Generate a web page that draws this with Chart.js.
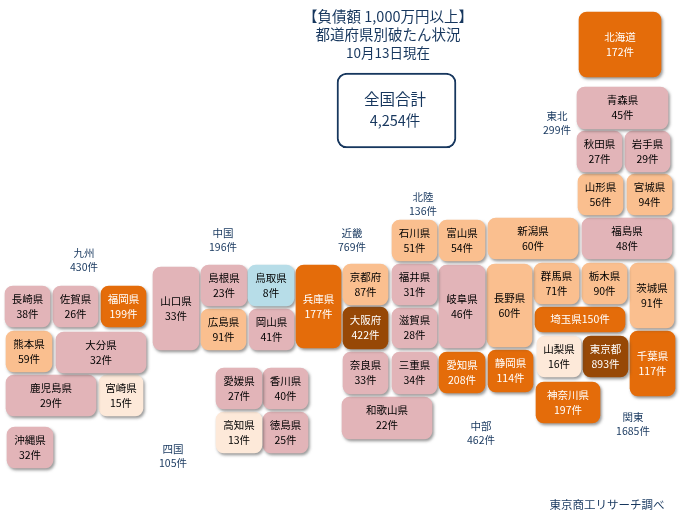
<!DOCTYPE html>
<html lang="ja">
<head>
<meta charset="utf-8">
<title>都道府県別破たん状況</title>
<script src="https://cdn.jsdelivr.net/npm/chart.js@4"></script>
<style>
  html, body { margin: 0; padding: 0; background: #fff; }
  canvas { display: block; }
</style>
</head>
<body>
<canvas id="tileMap" width="685" height="519"></canvas>
<script>
const prefectures = ['北海道', '青森県', '秋田県', '岩手県', '山形県', '宮城県', '福島県', '新潟県', '富山県', '石川県', '福井県', '岐阜県', '長野県', '群馬県', '栃木県', '茨城県', '埼玉県', '山梨県', '東京都', '千葉県', '神奈川県', '愛知県', '静岡県', '三重県', '滋賀県', '京都府', '大阪府', '奈良県', '和歌山県', '兵庫県', '鳥取県', '岡山県', '島根県', '広島県', '山口県', '愛媛県', '香川県', '高知県', '徳島県', '長崎県', '佐賀県', '福岡県', '熊本県', '大分県', '鹿児島県', '宮崎県', '沖縄県'];
const counts = [172, 45, 27, 29, 56, 94, 48, 60, 54, 51, 31, 46, 60, 71, 90, 91, 150, 16, 893, 117, 197, 208, 114, 34, 28, 87, 422, 33, 22, 177, 8, 41, 23, 91, 33, 27, 40, 13, 25, 38, 26, 199, 59, 32, 29, 15, 32];

// tile edges on the map, same order as prefectures
const tileLeft = [579, 577, 577, 625, 578, 627, 582, 488, 439, 392, 392, 439, 487, 534, 582, 630, 535, 537, 583, 630, 536, 439, 488, 392, 392, 343, 343, 343, 342, 296, 248, 249, 201, 201, 153, 216, 263, 216, 263, 5, 53, 101, 6, 56, 6, 99, 7];
const tileRight = [661, 668, 622, 670, 623, 672, 672, 578, 485, 437, 437, 485, 532, 579, 627, 674, 625, 581, 628, 675, 600, 485, 533, 437, 437, 388, 388, 388, 432, 341, 294, 294, 247, 246, 199, 262, 308, 262, 308, 50, 98, 146, 52, 146, 96, 143, 53];
const tileTop = [12, 87, 131, 131, 174, 174, 218, 218, 220, 220, 264, 265, 264, 263, 263, 263, 307, 336, 336, 331, 382, 352, 350, 352, 308, 264, 307, 352, 397, 265, 265, 309, 265, 309, 267, 368, 368, 412, 412, 286, 286, 286, 331, 332, 375, 375, 427];
const tileBottom = [77, 129, 172, 172, 215, 215, 259, 259, 261, 261, 305, 348, 347, 304, 304, 328, 332, 377, 377, 396, 423, 393, 392, 394, 348, 305, 349, 394, 439, 348, 306, 350, 306, 350, 350, 409, 409, 453, 453, 327, 327, 327, 372, 373, 416, 416, 468];

const regionNames = ['東北', '北陸', '中国', '近畿', '九州', '四国', '中部', '関東'];
const regionCounts = [299, 136, 196, 769, 430, 105, 462, 1685];
const regionX = [557, 423, 223, 352, 84, 173, 481, 633];
const regionY = [116, 197, 233, 233, 253, 449, 426, 417];

const titleLines = ['【負債額 1,000万円以上】', '都道府県別破たん状況', '10月13日現在'];
const titleSizes = [14.5, 14.5, 13.5];
const totalLabel = '全国合計';
const totalCount = '4,254件';
const sourceNote = '東京商工リサーチ調べ';

const FONT = '"Noto Sans CJK JP", "Noto Sans", sans-serif';
const NAVY = '#17375e';

function tileColor(count) {
  if (count < 10) return '#b7dde8';
  if (count < 20) return '#fde9d9';
  if (count < 50) return '#e2b4b8';
  if (count < 100) return '#fabf8f';
  if (count < 300) return '#e46c0a';
  return '#974806';
}

function corners(r) {
  return { topLeft: r, topRight: r, bottomLeft: r, bottomRight: r };
}

function buildDatasets() {
  const tiles = prefectures.map((name, i) => ({
    label: name,
    data: [{ x: (tileLeft[i] + tileRight[i]) / 2, y: [tileTop[i], tileBottom[i]] }],
    barThickness: tileRight[i] - tileLeft[i],
    backgroundColor: tileColor(counts[i]),
    borderWidth: 0,
    borderSkipped: false,
    borderRadius: corners(8),
  }));
  tiles.push({
    label: totalLabel,
    data: [{ x: 396.5, y: [73, 148] }],
    barThickness: 119,
    backgroundColor: '#ffffff',
    borderColor: NAVY,
    borderWidth: 2,
    borderSkipped: false,
    borderRadius: corners(10),
    isTotal: true,
  });
  return tiles;
}

function drawText(ctx, text, x, y, font, color) {
  ctx.font = font;
  ctx.fillStyle = color;
  ctx.fillText(text, x, y);
}

const tileShadow = {
  id: 'tileShadow',
  beforeDatasetDraw(chart, args) {
    const { ctx } = chart;
    ctx.save();
    if (!chart.data.datasets[args.index].isTotal) {
      ctx.shadowColor = 'rgba(70, 70, 70, 0.55)';
      ctx.shadowBlur = 3;
      ctx.shadowOffsetX = 1.5;
      ctx.shadowOffsetY = 2;
    }
  },
  afterDatasetDraw(chart) {
    chart.ctx.restore();
  },
};

const mapLabels = {
  id: 'mapLabels',
  afterDraw(chart) {
    const { ctx } = chart;
    const { x, y } = chart.scales;
    ctx.save();
    ctx.textAlign = 'center';
    ctx.textBaseline = 'middle';

    prefectures.forEach((name, i) => {
      const cx = x.getPixelForValue((tileLeft[i] + tileRight[i]) / 2);
      const cy = y.getPixelForValue((tileTop[i] + tileBottom[i]) / 2);
      const color = counts[i] >= 100 ? '#ffffff' : '#000000';
      const font = `10.5px ${FONT}`;
      if (name === '埼玉県') {
        drawText(ctx, `${name}${counts[i]}件`, cx, cy, font, color);
      } else {
        drawText(ctx, name, cx, cy - 7.5, font, color);
        drawText(ctx, `${counts[i]}件`, cx, cy + 7.5, font, color);
      }
    });

    regionNames.forEach((name, i) => {
      drawText(ctx, name, x.getPixelForValue(regionX[i]), y.getPixelForValue(regionY[i]), `10.5px ${FONT}`, NAVY);
      drawText(ctx, `${regionCounts[i]}件`, x.getPixelForValue(regionX[i]), y.getPixelForValue(regionY[i] + 14), `10.5px ${FONT}`, NAVY);
    });

    titleLines.forEach((line, i) => {
      drawText(ctx, line, x.getPixelForValue(388), y.getPixelForValue(16 + i * 18.5), `${titleSizes[i]}px ${FONT}`, NAVY);
    });
    drawText(ctx, totalLabel, x.getPixelForValue(395), y.getPixelForValue(99), `15.5px ${FONT}`, NAVY);
    drawText(ctx, totalCount, x.getPixelForValue(395), y.getPixelForValue(120), `14.5px ${FONT}`, NAVY);
    drawText(ctx, sourceNote, x.getPixelForValue(607), y.getPixelForValue(505), `11.5px ${FONT}`, NAVY);
    ctx.restore();
  },
};

new Chart(document.getElementById('tileMap'), {
  type: 'bar',
  data: { datasets: buildDatasets() },
  plugins: [tileShadow, mapLabels],
  options: {
    responsive: false,
    animation: false,
    grouped: false,
    layout: { padding: 0 },
    plugins: { legend: { display: false }, tooltip: { enabled: false } },
    scales: {
      x: { type: 'linear', min: 0, max: 685, offset: false, display: false },
      y: { type: 'linear', min: 0, max: 519, reverse: true, display: false },
    },
  },
});
</script>
</body>
</html>
